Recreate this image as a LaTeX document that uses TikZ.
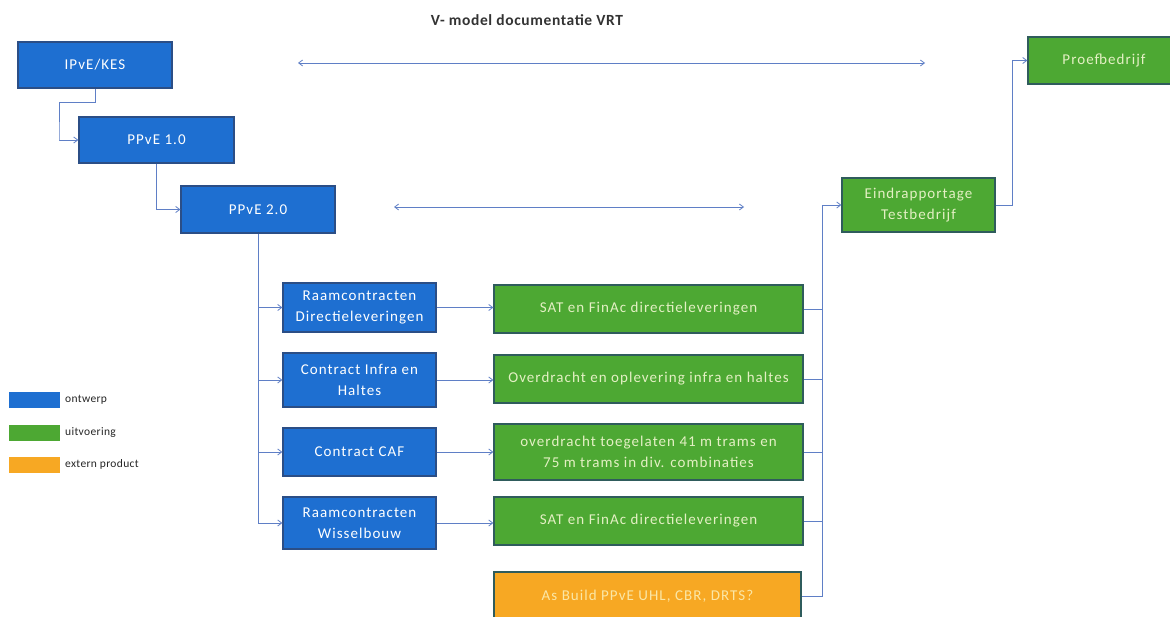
\documentclass[tikz,border=0pt]{standalone}
\usepackage{fontspec}
\setmainfont{Carlito}
\newfontfamily\boxfont[LetterSpace=7]{Carlito}
\newfontfamily\titlefont[LetterSpace=4]{Carlito}
\newfontfamily\legendfont[LetterSpace=3]{Carlito}
\usetikzlibrary{arrows.meta}

\definecolor{ontwerpblue}{HTML}{1E6FD1}
\definecolor{uitvgreen}{HTML}{4DA833}
\definecolor{extorange}{HTML}{F7A823}
\definecolor{boxedge}{HTML}{2B4E86}
\definecolor{greenedge}{HTML}{2F5C5C}
\definecolor{linkblue}{HTML}{5F7FC6}
\definecolor{greentext}{HTML}{E4F0C4}
\definecolor{orangetext}{HTML}{FBE7A6}

\tikzset{
  blok/.style={draw=boxedge, line width=1.3pt, align=center, inner sep=2pt,
    font=\boxfont\fontsize{15}{20.5}\selectfont},
  ontwerp/.style={blok, fill=ontwerpblue, text=white},
  uitv/.style={blok, fill=uitvgreen, draw=greenedge, text=greentext},
  extern/.style={blok, fill=extorange, draw=greenedge, text=orangetext},
  link/.style={draw=linkblue, line width=0.8pt, -{Straight Barb[length=4pt,width=6pt]}},
  bus/.style={draw=linkblue, line width=0.8pt},
  both/.style={draw=linkblue, line width=0.8pt,
    {Straight Barb[length=4pt,width=6pt]}-{Straight Barb[length=4pt,width=6pt]}},
  swatch/.style={minimum width=51pt, minimum height=16pt, inner sep=0pt},
  legendtext/.style={anchor=west, inner sep=0pt, text=black!85,
    font=\legendfont\fontsize{11.5}{13}\selectfont}
}

\begin{document}
\begin{tikzpicture}[x=1pt, y=-1pt]
\useasboundingbox[fill=white] (0,0) rectangle (1170,617);

% title
\node[font=\titlefont\fontsize{15.5}{18}\bfseries, text=black!80] (title) at (527,20) {V- model documentatie VRT};

% design chain
\node[ontwerp, minimum width=154pt, minimum height=46pt] (ipve)  at (95,65)    {IPvE/KES};
\node[ontwerp, minimum width=155pt, minimum height=46pt] (ppve1) at (156.5,140) {PPvE 1.0};
\node[ontwerp, minimum width=154pt, minimum height=47pt] (ppve2) at (258,209.5) {PPvE 2.0};

% contracts
\node[ontwerp, minimum width=153pt, minimum height=49pt] (rd)  at (359.5,307.5) {Raamcontracten\\Directieleveringen};
\node[ontwerp, minimum width=153pt, minimum height=54pt] (ci)  at (359.5,380)   {Contract Infra en\\Haltes};
\node[ontwerp, minimum width=153pt, minimum height=48pt] (caf) at (359.5,452)   {Contract CAF};
\node[ontwerp, minimum width=153pt, minimum height=52pt] (rw)  at (359.5,523)   {Raamcontracten\\Wisselbouw};

% deliveries
\node[uitv, minimum width=309pt, minimum height=48pt] (g1) at (648.5,309) {SAT en FinAc directieleveringen};
\node[uitv, minimum width=309pt, minimum height=48pt] (g2) at (648.5,379) {Overdracht en oplevering infra en haltes};
\node[uitv, minimum width=309pt, minimum height=56pt] (g3) at (648.5,452) {overdracht toegelaten 41 m trams en\\75 m trams in div. combinaties};
\node[uitv, minimum width=309pt, minimum height=48pt] (g4) at (648.5,521) {SAT en FinAc directieleveringen};
\node[extern, minimum width=307pt, minimum height=48pt] (ob) at (647.5,596) {As Build PPvE UHL, CBR, DRTS?};

% test and trial operation
\node[uitv, minimum width=153pt, minimum height=54pt] (eind)  at (918.5,205) {Eindrapportage\\Testbedrijf};
\node[uitv, minimum width=152pt, minimum height=47pt] (proef) at (1104,60.5) {Proefbedrijf};

% V-model horizontal links
\coordinate (ta) at (298,63);
\coordinate (tb) at (925,63);
\coordinate (ma) at (394,207);
\coordinate (mb) at (744,207);
\draw[both] (ta) -- (tb);
\draw[both] (ma) -- (mb);

% design chain links
\draw[link] (ipve.south) -- ++(0,14) -| ++(-36,38) |- (ppve1.west);
\draw[link] (ppve1.south) |- (ppve2.west);

% branch to contracts
\draw[link] (ppve2.south) |- (rw.west);
\draw[link] (ppve2.south |- rd.west) -- (rd.west);
\draw[link] (ppve2.south |- ci.west) -- (ci.west);
\draw[link] (ppve2.south |- caf.west) -- (caf.west);

% contracts to deliveries
\draw[link] (rd.east) -- (rd.east -| g1.west);
\draw[link] (ci.east) -- (ci.east -| g2.west);
\draw[link] (caf.east) -- (caf.east -| g3.west);
\draw[link] (rw.east) -- (rw.east -| g4.west);

% collecting bus to the final report
\coordinate (busr) at (822,0);
\draw[link] (ob.east) -- (ob.east -| busr) |- (eind.west);
\draw[bus] (g1.east) -- (g1.east -| busr);
\draw[bus] (g2.east) -- (g2.east -| busr);
\draw[bus] (g3.east) -- (g3.east -| busr);
\draw[bus] (g4.east) -- (g4.east -| busr);

\draw[link] (eind.east) -- ++(17,0) |- (proef.west);

% legend
\node[swatch, fill=ontwerpblue] (lb) at (34.5,400) {};
\node[swatch, fill=uitvgreen]   (lg) at (34.5,432.5) {};
\node[swatch, fill=extorange]   (lo) at (34.5,464.5) {};
\node[legendtext] (lbt) at (65,400)   {ontwerp};
\node[legendtext] (lgt) at (65,432.5) {uitvoering};
\node[legendtext] (lot) at (65,464.5) {extern product};
\end{tikzpicture}
\end{document}
